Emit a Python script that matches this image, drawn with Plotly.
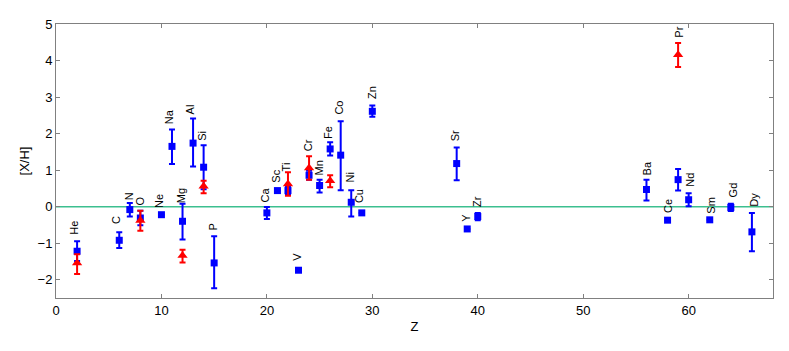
import plotly.graph_objects as go

# points bleus (carres)
z_blue = [2, 6, 7, 8, 10, 11, 12, 13, 14, 15, 20, 21, 22, 23, 24, 25, 26, 27, 28, 29, 30,
          38, 39, 40, 56, 58, 59, 60, 62, 64, 66]
xh_blue = [-1.22, -0.92, -0.08, -0.31, -0.22, 1.65, -0.40, 1.74, 1.08, -1.54, -0.17, 0.44, 0.44,
           -1.74, 0.86, 0.58, 1.58, 1.41, 0.12, -0.17, 2.61, 1.18, -0.61, -0.27, 0.47, -0.37,
           0.74, 0.19, -0.36, -0.02, -0.69]
err_up_blue = [0.27, 0.22, 0.18, 0.2, None, 0.46, 0.48, 0.67, 0.60, 0.73, 0.16, None, 0.1,
               None, 0.12, 0.16, 0.18, 0.93, 0.33, None, 0.16, 0.44, None, 0.1, 0.27, None,
               0.29, 0.18, None, 0.10, 0.52]
err_dn_blue = [0.27, 0.21, 0.19, 0.2, None, 0.48, 0.50, 0.64, 0.60, 0.69, 0.17, None, 0.1,
               None, 0.12, 0.19, 0.18, 0.96, 0.39, None, 0.15, 0.46, None, 0.1, 0.30, None,
               0.30, 0.18, None, 0.10, 0.53]

# points rouges (triangles)
z_red = [2, 8, 12, 14, 22, 24, 26, 59]
xh_red = [-1.54, -0.38, -1.34, 0.56, 0.62, 1.06, 0.71, 4.16]
err_up_red = [0.24, 0.27, 0.16, 0.15, 0.32, 0.32, 0.15, 0.32]
err_dn_red = [0.30, 0.28, 0.19, 0.19, 0.32, 0.32, 0.18, 0.34]

# etiquettes des elements
elements = ["He", "C", "N", "O", "Ne", "Na", "Mg", "Al", "Si", "P", "Ca", "Sc", "Ti", "V", "Cr",
            "Mn", "Fe", "Co", "Ni", "Cu", "Zn", "Sr", "Y", "Zr", "Ba", "Ce", "Pr", "Nd", "Sm",
            "Gd", "Dy"]
lab_x = [1.7, 5.7, 7.0, 8.0, 9.75, 10.8, 11.8, 12.8, 13.9, 14.9, 19.8, 20.9, 21.9, 22.9, 23.9,
         24.9, 25.8, 26.8, 27.85, 28.8, 29.9, 37.85, 38.85, 39.9, 56.0, 58.1, 59.05, 60.05, 62.1,
         64.2, 66.2]
lab_y = [-0.58, -0.36, 0.28, 0.15, 0.15, 2.47, 0.30, 2.66, 1.93, -0.57, 0.33, 0.83, 1.10, -1.36,
         1.68, 1.06, 2.02, 2.70, 0.79, 0.28, 3.12, 1.93, -0.31, 0.15, 1.06, 0.01, 4.78, 0.74,
         0.05, 0.47, 0.19]

fig = go.Figure()

fig.add_trace(go.Scatter(
    x=z_blue, y=xh_blue, mode='markers',
    marker=dict(symbol='square', size=7, color='#0000ff'),
    error_y=dict(type='data', symmetric=False, array=err_up_blue, arrayminus=err_dn_blue,
                 color='#0000ff', thickness=2, width=3),
))
fig.add_trace(go.Scatter(
    x=z_red, y=xh_red, mode='markers',
    marker=dict(symbol='triangle-up', size=9, color='#ff0000'),
    error_y=dict(type='data', symmetric=False, array=err_up_red, arrayminus=err_dn_red,
                 color='#ff0000', thickness=2, width=3),
))

for el, lx, ly in zip(elements, lab_x, lab_y):
    fig.add_annotation(x=lx, y=ly, text=el, textangle=-90, showarrow=False,
                       font=dict(size=11, color='black'))

# ligne a zero
fig.add_shape(type='line', x0=0, x1=68, y0=0, y1=0, xref='x', yref='y',
              line=dict(color='#3cbf8f', width=1.5), layer='below')

axis_style = dict(showgrid=False, zeroline=False, showline=True, linecolor='#808080',
                  linewidth=1, mirror='ticks', ticks='inside', ticklen=4, tickcolor='#808080',
                  tickfont=dict(size=13, color='black'), automargin=False)

fig.update_xaxes(range=[0, 68], dtick=10, tick0=0,
                 title=dict(text='Z', font=dict(size=13, color='black'), standoff=5),
                 **axis_style)
fig.update_yaxes(range=[-2.5, 5], dtick=1, tick0=-2,
                 title=dict(text='[X/H]', font=dict(size=13, color='black'), standoff=5),
                 **axis_style)

# la page ajoute 8px de marge autour de la figure
fig.update_layout(
    width=781, height=343,
    margin=dict(l=48, r=16, t=16, b=53),
    plot_bgcolor='white', paper_bgcolor='white',
    showlegend=False,
    font=dict(family='Liberation Sans, Arial, sans-serif'),
)

fig.write_html("out.html")
